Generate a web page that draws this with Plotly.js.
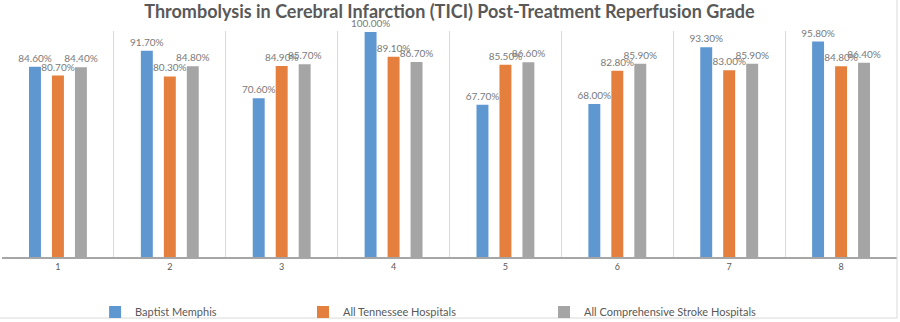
<!DOCTYPE html>
<html>
<head>
<meta charset="utf-8">
<script src="https://cdn.plot.ly/plotly-3.0.1.min.js"></script>
<style>html,body{margin:0;padding:0;background:#fff;}#chart{width:900px;height:322px;}</style>
</head>
<body>
<div id="chart"></div>
<script>
const categories = ['1', '2', '3', '4', '5', '6', '7', '8'];
const seriesNames = ['Baptist Memphis', 'All Tennessee Hospitals', 'All Comprehensive Stroke Hospitals'];
const baptistMemphis = [84.6, 91.7, 70.6, 100.0, 67.7, 68.0, 93.3, 95.8];
const allTennessee = [80.7, 80.3, 84.9, 89.1, 85.5, 82.8, 83.0, 84.8];
const allComprehensive = [84.4, 84.8, 85.7, 86.7, 86.6, 85.9, 85.9, 86.4];
const colors = ['#5f98d1', '#e47f3e', '#a5a5a5'];
const seriesValues = [baptistMemphis, allTennessee, allComprehensive];
const legendIds = ['legend', 'legend2', 'legend3'];

const labelFont = {family: 'Lato, "Open Sans", sans-serif', size: 10, color: '#7a7a7a'};

const traces = seriesValues.map((vals, i) => ({
  type: 'bar',
  name: seriesNames[i],
  x: categories,
  y: vals,
  marker: {color: colors[i]},
  texttemplate: '%{y:.2f}%',
  textposition: 'outside',
  constraintext: 'none',
  cliponaxis: false,
  outsidetextfont: labelFont,
  hoverinfo: 'skip',
  legend: legendIds[i]
}));

const legendBase = {
  orientation: 'h',
  yref: 'container',
  yanchor: 'middle',
  xanchor: 'left',
  y: (322 - 312) / 322,
  bgcolor: 'rgba(0,0,0,0)',
  font: {family: 'Lato, "Open Sans", sans-serif', size: 11, color: '#595959'}
};

const layout = {
  width: 900,
  height: 322,
  margin: {l: 2, r: 3, t: 31, b: 65},
  paper_bgcolor: '#ffffff',
  plot_bgcolor: '#ffffff',
  title: {
    text: '<b>Thrombolysis in Cerebral Infarction (TICI) Post-Treatment Reperfusion Grade</b>',
    font: {family: 'Lato, "Open Sans", sans-serif', size: 18, color: '#595959'},
    x: 0.5,
    xanchor: 'center',
    xref: 'paper',
    yref: 'container',
    y: 1 - 11.5 / 322,
    yanchor: 'middle'
  },
  barmode: 'group',
  bargap: 0.384,
  bargroupgap: 0.48,
  xaxis: {
    type: 'category',
    tickson: 'boundaries',
    ticklen: 0,
    showgrid: true,
    gridcolor: '#d9d9d9',
    gridwidth: 1,
    showline: true,
    linecolor: '#a6a6a6',
    linewidth: 2,
    tickfont: {family: 'Lato, "Open Sans", sans-serif', size: 9, color: '#595959'},
    fixedrange: true
  },
  yaxis: {
    range: [0, 100.5],
    showgrid: false,
    zeroline: false,
    showticklabels: false,
    showline: false,
    fixedrange: true
  },
  legend: Object.assign({}, legendBase, {x: 0.1040}),
  legend2: Object.assign({}, legendBase, {x: 0.3363}),
  legend3: Object.assign({}, legendBase, {x: 0.6056}),
  shapes: [
    {type: 'line', xref: 'paper', yref: 'paper', x0: -0.01, x1: 1.0, y0: -0.27, y1: -0.27,
     line: {color: '#d9d9d9', width: 1}},
    {type: 'line', xref: 'paper', yref: 'paper', x0: 1.0, x1: 1.0, y0: -0.27, y1: 1.137,
     line: {color: '#d9d9d9', width: 1}}
  ],
  showlegend: true
};

Plotly.newPlot('chart', traces, layout, {displayModeBar: false, staticPlot: true});
</script>
</body>
</html>
